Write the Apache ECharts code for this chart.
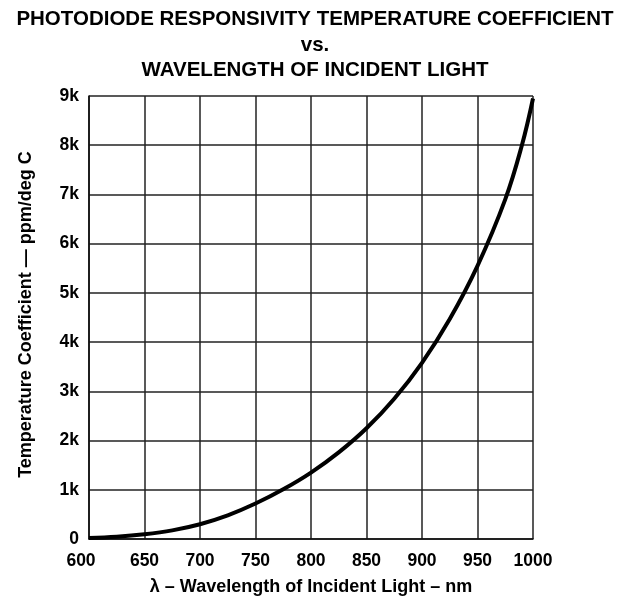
<!DOCTYPE html>
<html>
<head>
<meta charset="utf-8">
<script src="https://cdn.jsdelivr.net/npm/echarts@6/dist/echarts.min.js"></script>
<style>
html,body{margin:0;padding:0;background:#fff;}
#chart{width:621px;height:601px;}
</style>
</head>
<body>
<div id="chart"></div>
<script>
// Wavelength (nm)
const wavelength = [600, 625, 650, 675, 700, 725, 750, 775, 800, 825, 850, 875, 900, 925, 950, 975, 990, 1000];
// Temperature coefficient (ppm/deg C)
const tempCoeff = [20, 45, 95, 175, 300, 480, 720, 1010, 1350, 1760, 2250, 2850, 3580, 4470, 5550, 6900, 8000, 8950];
const xTicks = [600, 650, 700, 750, 800, 850, 900, 950, 1000];
const yTickLabels = ['0', '1k', '2k', '3k', '4k', '5k', '6k', '7k', '8k', '9k'];

const FONT = '"Liberation Sans", Arial, Helvetica, sans-serif';
const chart = echarts.init(document.getElementById('chart'), null, {renderer: 'canvas'});
chart.setOption({
  animation: false,
  backgroundColor: '#ffffff',
  title: {
    text: 'PHOTODIODE RESPONSIVITY TEMPERATURE COEFFICIENT\nvs.\nWAVELENGTH OF INCIDENT LIGHT',
    left: 315,
    textAlign: 'center',
    top: 7,
    padding: 0,
    textStyle: {fontFamily: FONT, fontWeight: 'bold', fontSize: 20.5, lineHeight: 25.35, color: '#000'}
  },
  grid: {left: 89, right: 88, top: 96, bottom: 61, containLabel: false},
  xAxis: {
    type: 'value', min: xTicks[0], max: xTicks[xTicks.length - 1], interval: 50,
    name: 'λ – Wavelength of Incident Light – nm',
    nameLocation: 'middle', nameGap: 39,
    nameTextStyle: {fontFamily: FONT, fontWeight: 'bold', fontSize: 18, color: '#000'},
    axisLine: {show: true, lineStyle: {color: '#111', width: 1.6}},
    axisTick: {show: false},
    splitLine: {show: true, lineStyle: {color: '#222', width: 1.5}},
    axisLabel: {
      margin: 13, fontFamily: FONT, fontWeight: 'bold', fontSize: 17.5, color: '#000',
      formatter: v => (v === xTicks[0] ? '{f|' + v + '}' : String(v)),
      rich: {f: {fontFamily: FONT, fontWeight: 'bold', fontSize: 17.5, color: '#000', padding: [0, 16, 0, 0]}}
    }
  },
  yAxis: {
    type: 'value', min: 0, max: 9000, interval: 1000,
    name: 'Temperature Coefficient — ppm/deg C',
    nameLocation: 'middle', nameGap: 54,
    nameTextStyle: {fontFamily: FONT, fontWeight: 'bold', fontSize: 18, color: '#000', padding: [0, 0, 0, 6]},
    axisLine: {show: true, lineStyle: {color: '#111', width: 1.6}},
    axisTick: {show: false},
    splitLine: {show: true, lineStyle: {color: '#222', width: 1.5}},
    axisLabel: {
      margin: 10, fontFamily: FONT, fontWeight: 'bold', fontSize: 17.5, color: '#000',
      formatter: v => yTickLabels[Math.round(v / 1000)]
    }
  },
  series: [{
    type: 'line',
    data: wavelength.map((w, i) => [w, tempCoeff[i]]),
    smooth: 0.4,
    showSymbol: false,
    lineStyle: {color: '#000', width: 4},
    clip: false
  }]
});
</script>
</body>
</html>
